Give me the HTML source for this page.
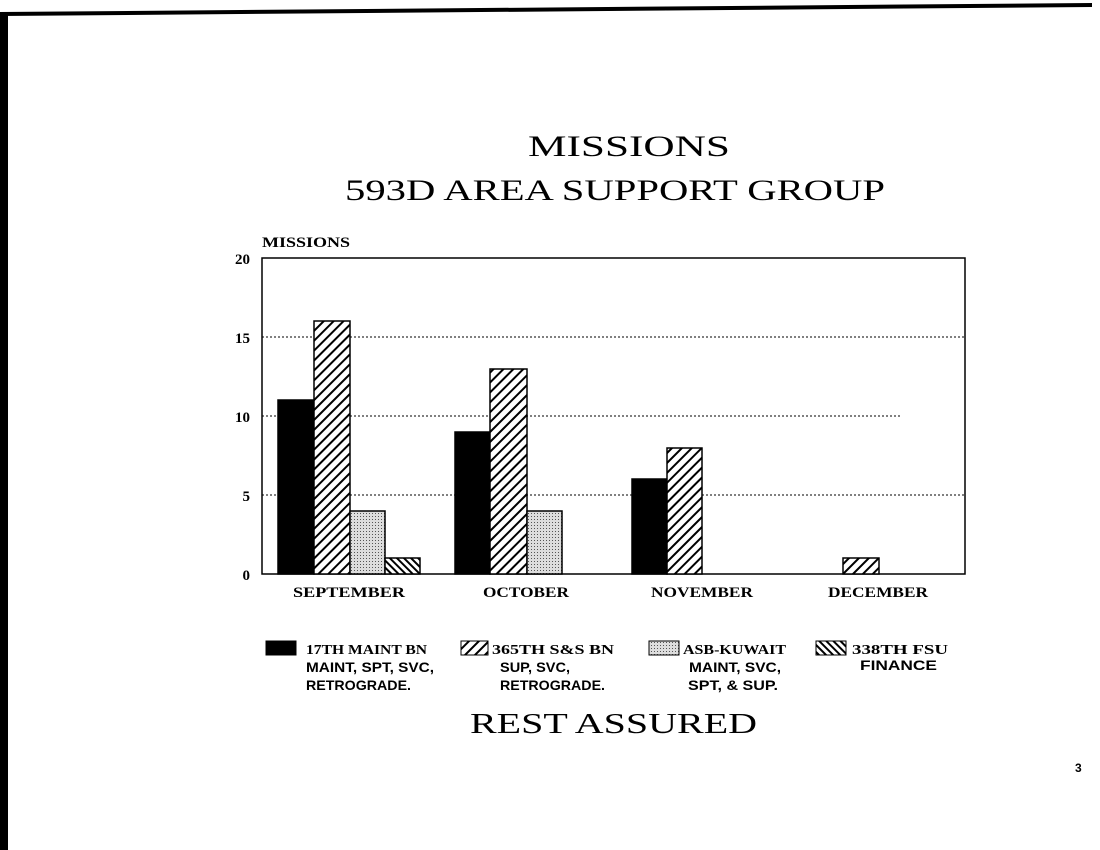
<!DOCTYPE html>
<html><head><meta charset="utf-8"><style>
html,body{margin:0;padding:0;background:#fff;}
svg{display:block;}
</style></head><body>
<svg width="1100" height="850" xmlns="http://www.w3.org/2000/svg">
<defs>
<pattern id="fwd" width="7" height="7" patternUnits="userSpaceOnUse" patternTransform="rotate(45)">
<rect width="7" height="7" fill="#fff"/><rect width="2" height="7" fill="#000"/></pattern>
<pattern id="bwd" width="5" height="5" patternUnits="userSpaceOnUse" patternTransform="rotate(-45)">
<rect width="5" height="5" fill="#fff"/><rect width="2" height="5" fill="#000"/></pattern>
<pattern id="dots" width="3" height="3" patternUnits="userSpaceOnUse">
<rect width="3" height="3" fill="#ddd"/><rect width="1" height="1" fill="#555"/></pattern>
</defs>
<rect width="1100" height="850" fill="#fff"/>
<polygon points="0,12 1092,3 1092,7 0,16" fill="#000"/>
<rect x="0" y="12" width="8" height="838" fill="#000"/>
<g font-family="Liberation Serif, serif" fill="#000">
<text x="528" y="156" font-size="30" textLength="202" lengthAdjust="spacingAndGlyphs">MISSIONS</text>
<text x="345" y="200" font-size="30" textLength="540" lengthAdjust="spacingAndGlyphs">593D AREA SUPPORT GROUP</text>
<text x="470" y="733" font-size="28" textLength="287" lengthAdjust="spacingAndGlyphs">REST ASSURED</text>
</g>
<g font-family="Liberation Serif, serif" font-weight="bold" font-size="15" fill="#000">
<text x="262" y="247" textLength="88" lengthAdjust="spacingAndGlyphs">MISSIONS</text>
<text x="250" y="264" text-anchor="end">20</text>
<text x="250" y="343" text-anchor="end">15</text>
<text x="250" y="422" text-anchor="end">10</text>
<text x="250" y="501" text-anchor="end">5</text>
<text x="250" y="580" text-anchor="end">0</text>
<text x="293" y="597" textLength="112" lengthAdjust="spacingAndGlyphs">SEPTEMBER</text>
<text x="483" y="597" textLength="86" lengthAdjust="spacingAndGlyphs">OCTOBER</text>
<text x="651" y="597" textLength="102" lengthAdjust="spacingAndGlyphs">NOVEMBER</text>
<text x="828" y="597" textLength="100" lengthAdjust="spacingAndGlyphs">DECEMBER</text>
</g>
<g stroke="#000" stroke-width="1" stroke-dasharray="2,2">
<line x1="262" y1="337" x2="965" y2="337"/>
<line x1="262" y1="416" x2="900" y2="416"/>
<line x1="262" y1="495" x2="965" y2="495"/>
</g>
<rect x="262" y="258" width="703" height="316" fill="none" stroke="#000" stroke-width="1.5"/>
<g stroke="#000" stroke-width="1.5">
<rect x="278" y="400" width="36" height="174" fill="#000"/>
<rect x="314" y="321" width="36" height="253" fill="url(#fwd)"/>
<rect x="350" y="511" width="35" height="63" fill="url(#dots)"/>
<rect x="385" y="558" width="35" height="16" fill="url(#bwd)"/>
<rect x="455" y="432" width="35" height="142" fill="#000"/>
<rect x="490" y="369" width="37" height="205" fill="url(#fwd)"/>
<rect x="527" y="511" width="35" height="63" fill="url(#dots)"/>
<rect x="632" y="479" width="35" height="95" fill="#000"/>
<rect x="667" y="448" width="35" height="126" fill="url(#fwd)"/>
<rect x="843" y="558" width="36" height="16" fill="url(#fwd)"/>
</g>
<g stroke="#000" stroke-width="1">
<rect x="266" y="641" width="30" height="14" fill="#000"/>
<rect x="461" y="641" width="27" height="14" fill="url(#fwd)"/>
<rect x="649" y="641" width="30" height="14" fill="url(#dots)"/>
<rect x="816" y="641" width="30" height="14" fill="url(#bwd)"/>
</g>
<g font-family="Liberation Sans, sans-serif" font-weight="bold" font-size="14" fill="#000" lengthAdjust="spacingAndGlyphs">
<text x="306" y="654" font-family="Liberation Serif, serif" textLength="121" lengthAdjust="spacingAndGlyphs">17TH MAINT BN</text>
<text x="306" y="672" textLength="128" lengthAdjust="spacingAndGlyphs">MAINT, SPT, SVC,</text>
<text x="306" y="690" textLength="105" lengthAdjust="spacingAndGlyphs">RETROGRADE.</text>
<text x="492" y="654" font-family="Liberation Serif, serif" textLength="122" lengthAdjust="spacingAndGlyphs">365TH S&amp;S BN</text>
<text x="500" y="672" textLength="70" lengthAdjust="spacingAndGlyphs">SUP, SVC,</text>
<text x="500" y="690" textLength="105" lengthAdjust="spacingAndGlyphs">RETROGRADE.</text>
<text x="683" y="654" font-family="Liberation Serif, serif" textLength="103" lengthAdjust="spacingAndGlyphs">ASB-KUWAIT</text>
<text x="689" y="672" textLength="92" lengthAdjust="spacingAndGlyphs">MAINT, SVC,</text>
<text x="688" y="690" textLength="90" lengthAdjust="spacingAndGlyphs">SPT, &amp; SUP.</text>
<text x="852" y="654" font-family="Liberation Serif, serif" textLength="96" lengthAdjust="spacingAndGlyphs">338TH FSU</text>
<text x="860" y="670" textLength="77" lengthAdjust="spacingAndGlyphs">FINANCE</text>
</g>
<text x="1075" y="772" font-family="Liberation Sans, sans-serif" font-size="12" font-weight="bold">3</text>
</svg>
</body></html>
